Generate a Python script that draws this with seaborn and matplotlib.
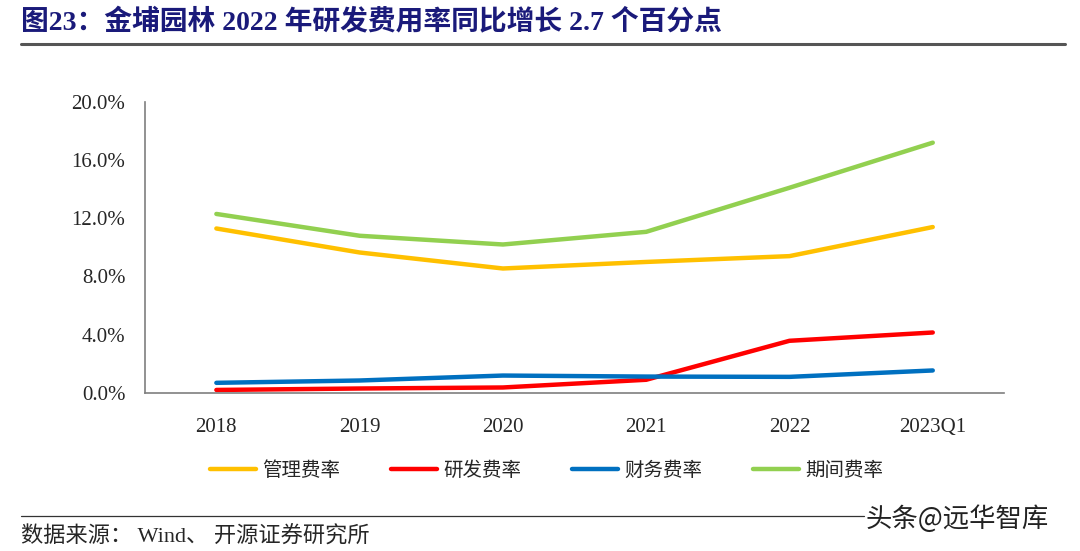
import matplotlib
matplotlib.use('Agg')
import matplotlib.pyplot as plt
import pandas as pd
import seaborn as sns
from matplotlib.ticker import FuncFormatter, FixedLocator

# Data (%)
periods = ['2018', '2019', '2020', '2021', '2022', '2023Q1']
mgmt_rate = [11.3, 9.65, 8.55, 9.0, 9.4, 11.4]      # 管理费率
rd_rate = [0.2, 0.3, 0.37, 0.9, 3.58, 4.15]         # 研发费率
fin_rate = [0.69, 0.85, 1.19, 1.12, 1.1, 1.54]      # 财务费率
period_rate = [12.3, 10.8, 10.2, 11.07, 14.1, 17.2] # 期间费率

series_names = ['管理费率', '研发费率', '财务费率', '期间费率']
colors = ['#FFC000', '#FF0000', '#0070C0', '#92D050']

df = pd.DataFrame({
    'period': periods * 4,
    'value': mgmt_rate + rd_rate + fin_rate + period_rate,
    'series': sum([[n] * len(periods) for n in series_names], []),
})

sns.set_style('white')
plt.rcParams['font.family'] = ['Liberation Serif', 'Noto Sans CJK SC', 'DejaVu Sans']

fig = plt.figure(figsize=(10.8, 5.51), dpi=100)
ax = fig.add_axes([0.134, 0.287, 0.796, 0.528])

sns.lineplot(data=df, x='period', y='value', hue='series', hue_order=series_names,
             palette=dict(zip(series_names, colors)), linewidth=3.2, ax=ax, legend=True)

ax.set_xlim(-0.5, 5.5)
ax.set_ylim(0, 20)
ax.set_yticks([0, 4, 8, 12, 16, 20])
ax.yaxis.set_major_formatter(FuncFormatter(lambda v, p: f'{v:.1f}%'))
ax.set_xlabel('')
ax.set_ylabel('')

for s in ['top', 'right']:
    ax.spines[s].set_visible(False)
for s in ['left', 'bottom']:
    ax.spines[s].set_color('#7f7f7f')
    ax.spines[s].set_linewidth(1.2)

ax.tick_params(axis='y', direction='in', length=5, color='#7f7f7f', labelsize=15, pad=14)
ax.tick_params(axis='x', which='major', length=0, labelsize=15, pad=18)
ax.xaxis.set_minor_locator(FixedLocator([i - 0.5 for i in range(len(periods) + 1)]))
ax.tick_params(axis='x', which='minor', direction='in', length=5, color='#7f7f7f')

handles, labels = ax.get_legend_handles_labels()
ax.legend_.remove()
leg = fig.legend(handles, labels, loc='center', bbox_to_anchor=(0.506, 0.147), ncol=4,
                 frameon=False, handlelength=2.4, handletextpad=0.3, columnspacing=2.6,
                 prop={'family': ['Noto Sans CJK SC'], 'size': 14})
for h in leg.get_lines():
    h.set_linewidth(3.2)

# title and header rule
fig.text(0.019, 0.958, '图23：金埔园林 2022 年研发费用率同比增长 2.7 个百分点',
         fontsize=20, fontweight='bold', color='#1a1a7a', va='center', ha='left',
         family=['Liberation Serif', 'Noto Sans CJK SC'])
fig.add_artist(plt.Line2D([0.019, 0.986], [0.92, 0.92], color='#555555', linewidth=2.2))

# source footer
fig.add_artist(plt.Line2D([0.019, 0.80], [0.063, 0.063], color='#333333', linewidth=0.9))
fig.text(0.019, 0.025, '数据来源： Wind、 开源证券研究所', fontsize=16, va='center', ha='left',
         family=['Liberation Serif', 'Noto Sans CJK SC'])
fig.text(0.801, 0.058, '头条@远华智库', fontsize=19, va='center', ha='left', color='#222222',
         family=['Noto Sans CJK SC'])

fig.savefig('out.png', dpi=100)
